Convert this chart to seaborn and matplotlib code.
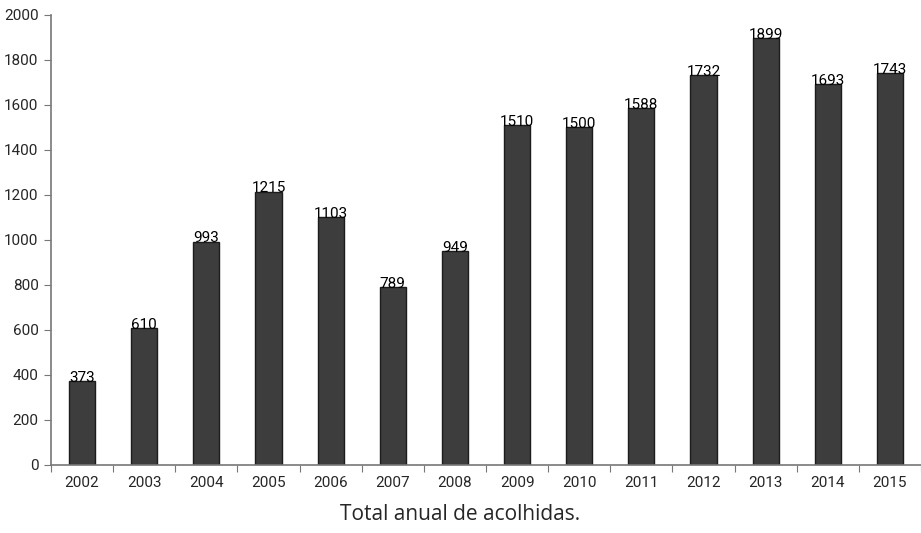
import matplotlib
matplotlib.use("Agg")
import matplotlib.pyplot as plt
from matplotlib import font_manager
import seaborn as sns
import pandas as pd

years = ["2002", "2003", "2004", "2005", "2006", "2007", "2008",
         "2009", "2010", "2011", "2012", "2013", "2014", "2015"]
totals = [373, 610, 993, 1215, 1103, 789, 949,
          1510, 1500, 1588, 1732, 1899, 1693, 1743]
caption = "Total anual de acolhidas."

df = pd.DataFrame({"ano": years, "total": totals})

sns.set_style("white")
plt.rcParams["font.family"] = ["DejaVu Sans"]

# no condensed face here, so Roboto at a modest size
num_font = font_manager.FontProperties(family="Roboto", size=11)

fig = plt.figure(figsize=(9.21, 5.33), dpi=100)
ax = fig.add_axes([0.0554, 0.1276, 0.9446, 0.8443])

sns.barplot(data=df, x="ano", y="total", color="#3d3d3d", width=0.42,
            edgecolor="#1c1c1c", linewidth=1.0, saturation=1, ax=ax)

for i, v in enumerate(df["total"]):
    ax.text(i, v + 14, str(v), ha="center", va="center",
            fontproperties=num_font, color="black")

ax.set_xlim(-0.5, len(years) - 0.5)
ax.set_ylim(0, 2000)
ax.set_yticks(range(0, 2001, 200))
ax.set_yticklabels([str(t) for t in range(0, 2001, 200)], fontproperties=num_font)
ax.set_xticks([i - 0.5 for i in range(len(years) + 1)], minor=False)
ax.set_xticklabels([])
ax.set_xticks(range(len(years)), minor=True)
ax.set_xticklabels(years, minor=True, fontproperties=num_font)
ax.tick_params(axis="x", which="major", direction="out", length=5, color="#777777", bottom=True)
ax.tick_params(axis="x", which="minor", length=0, pad=8, bottom=True)
ax.tick_params(axis="y", direction="out", length=5, color="#777777", left=True, pad=4)

for side in ["top", "right"]:
    ax.spines[side].set_visible(False)
for side in ["left", "bottom"]:
    ax.spines[side].set_color("#777777")
    ax.spines[side].set_linewidth(1.2)

ax.set_xlabel("")
ax.set_ylabel("")
fig.text(0.5, 0.034, caption, ha="center", va="center", fontsize=15,
         family=["Open Sans", "DejaVu Sans"])

fig.savefig("out.png", dpi=100)
